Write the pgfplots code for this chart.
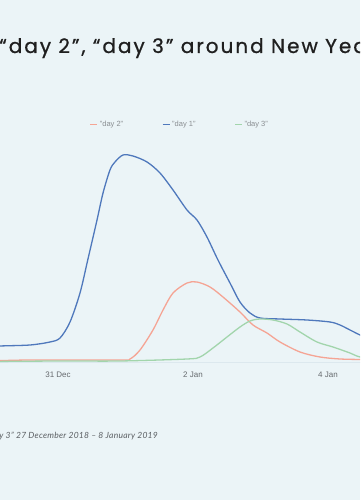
\documentclass[border=0pt]{standalone}
\usepackage{fontspec}
\setmainfont{Liberation Sans}
\newfontfamily\titlefont[LetterSpace=10,FakeBold=0.8]{Poppins}
\newfontfamily\notefont[LetterSpace=3]{Lato}
\usepackage{pgfplots}
\pgfplotsset{compat=1.18}
\definecolor{bg}{HTML}{EBF4F7}
\definecolor{axisline}{HTML}{DCE8EE}
\definecolor{dayone}{HTML}{4F78BC}
\definecolor{daytwo}{HTML}{F5A494}
\definecolor{daythree}{HTML}{A2D5AC}
\definecolor{ticktext}{HTML}{666A6E}
\definecolor{legtext}{HTML}{8A8E92}
\definecolor{notetext}{HTML}{5A5E62}

% x = days after 31 Dec 2018, y = search interest (relative)
\pgfplotstableread{
d v
-1.007 15.5
-0.859 16.5
-0.415 17.5
-0.119 20.5
0.030 24.5
0.178 40.5
0.326 69.5
0.444 103.5
0.578 142.5
0.667 169.5
0.770 192.5
0.844 200.5
0.963 207.5
1.111 206.5
1.319 200.5
1.511 189.5
1.704 172.5
1.911 152.5
2.059 142.5
2.207 125.5
2.370 102.5
2.548 79.5
2.696 60.5
2.844 49.5
2.993 44.5
3.289 43.5
3.689 42.5
4.030 40.5
4.178 37.5
4.326 32.5
4.474 27.5
4.696 20.5
}\dayone

\pgfplotstableread{
d v
-1.007 1.5
-0.415 2.5
0.919 2.5
1.067 3.5
1.215 12.5
1.407 32.5
1.556 52.5
1.704 69.5
1.911 79.5
2.059 80.5
2.252 75.5
2.444 65.5
2.696 50.5
2.889 37.5
3.096 29.5
3.289 20.5
3.585 10.5
3.881 5.5
4.178 3.5
4.474 3.0
4.770 2.5
}\daytwo

\pgfplotstableread{
d v
-1.007 1.0
0.030 1.5
0.919 1.5
1.911 3.5
2.104 5.5
2.296 14.5
2.504 25.5
2.696 35.5
2.844 41.5
2.993 43.5
3.185 42.5
3.393 38.5
3.585 30.5
3.837 20.5
4.074 15.5
4.326 9.5
4.474 5.5
4.770 2.5
}\daythree

\begin{document}
\begin{tikzpicture}[x=1pt,y=1pt]
\fill[bg] (0,0) rectangle (360,500);
\begin{scope}
\clip (0,0) rectangle (360,500);
\begin{axis}[
  at={(-23pt,137.5pt)}, anchor=south west,
  scale only axis, width=405pt, height=230pt,
  xmin=-1.2, xmax=4.8, ymin=0, ymax=230,
  axis x line*=bottom, axis y line=none,
  x axis line style={draw=axisline, line width=1.5pt},
  xtick={0,2,4}, xticklabels={31 Dec,2 Jan,4 Jan},
  ytick=\empty, major tick length=0pt,
  /pgf/number format/assume math mode=true,
  tick label style={font=\fontsize{8}{9}\selectfont, text=ticktext},
  xticklabel style={yshift=-6pt},
  legend style={at={(0.501,1.0326)}, anchor=center, draw=none, fill=none,
    font=\fontsize{7.5}{9}\selectfont, text=legtext,
    /tikz/every even column/.append style={column sep=37pt}},
  legend columns=3,
  legend image code/.code={\draw[#1, line width=1pt] (0pt,0pt) -- (7pt,0pt);},
  every axis plot/.append style={line width=1.3pt, smooth, no markers},
]
\addplot[daytwo] table[x=d, y=v] {\daytwo};
\addlegendentry{"day 2"}
\addplot[dayone] table[x=d, y=v] {\dayone};
\addlegendentry{"day 1"}
\addplot[daythree] table[x=d, y=v] {\daythree};
\addlegendentry{"day 3"}
\end{axis}
\node[anchor=base west, font=\titlefont\fontsize{20}{24}\selectfont, text=black!88, inner sep=0pt] at (-1,447) {“day 2”, “day 3” around New Year};
\node[anchor=base east, font=\notefont\itshape\fontsize{8.5}{10}\selectfont, text=notetext, inner sep=0pt] at (158,61.7) {“day 3” 27 December 2018 – 8 January 2019};
\end{scope}
\pgfresetboundingbox
\useasboundingbox (0,0) rectangle (360,500);
\end{tikzpicture}
\end{document}
